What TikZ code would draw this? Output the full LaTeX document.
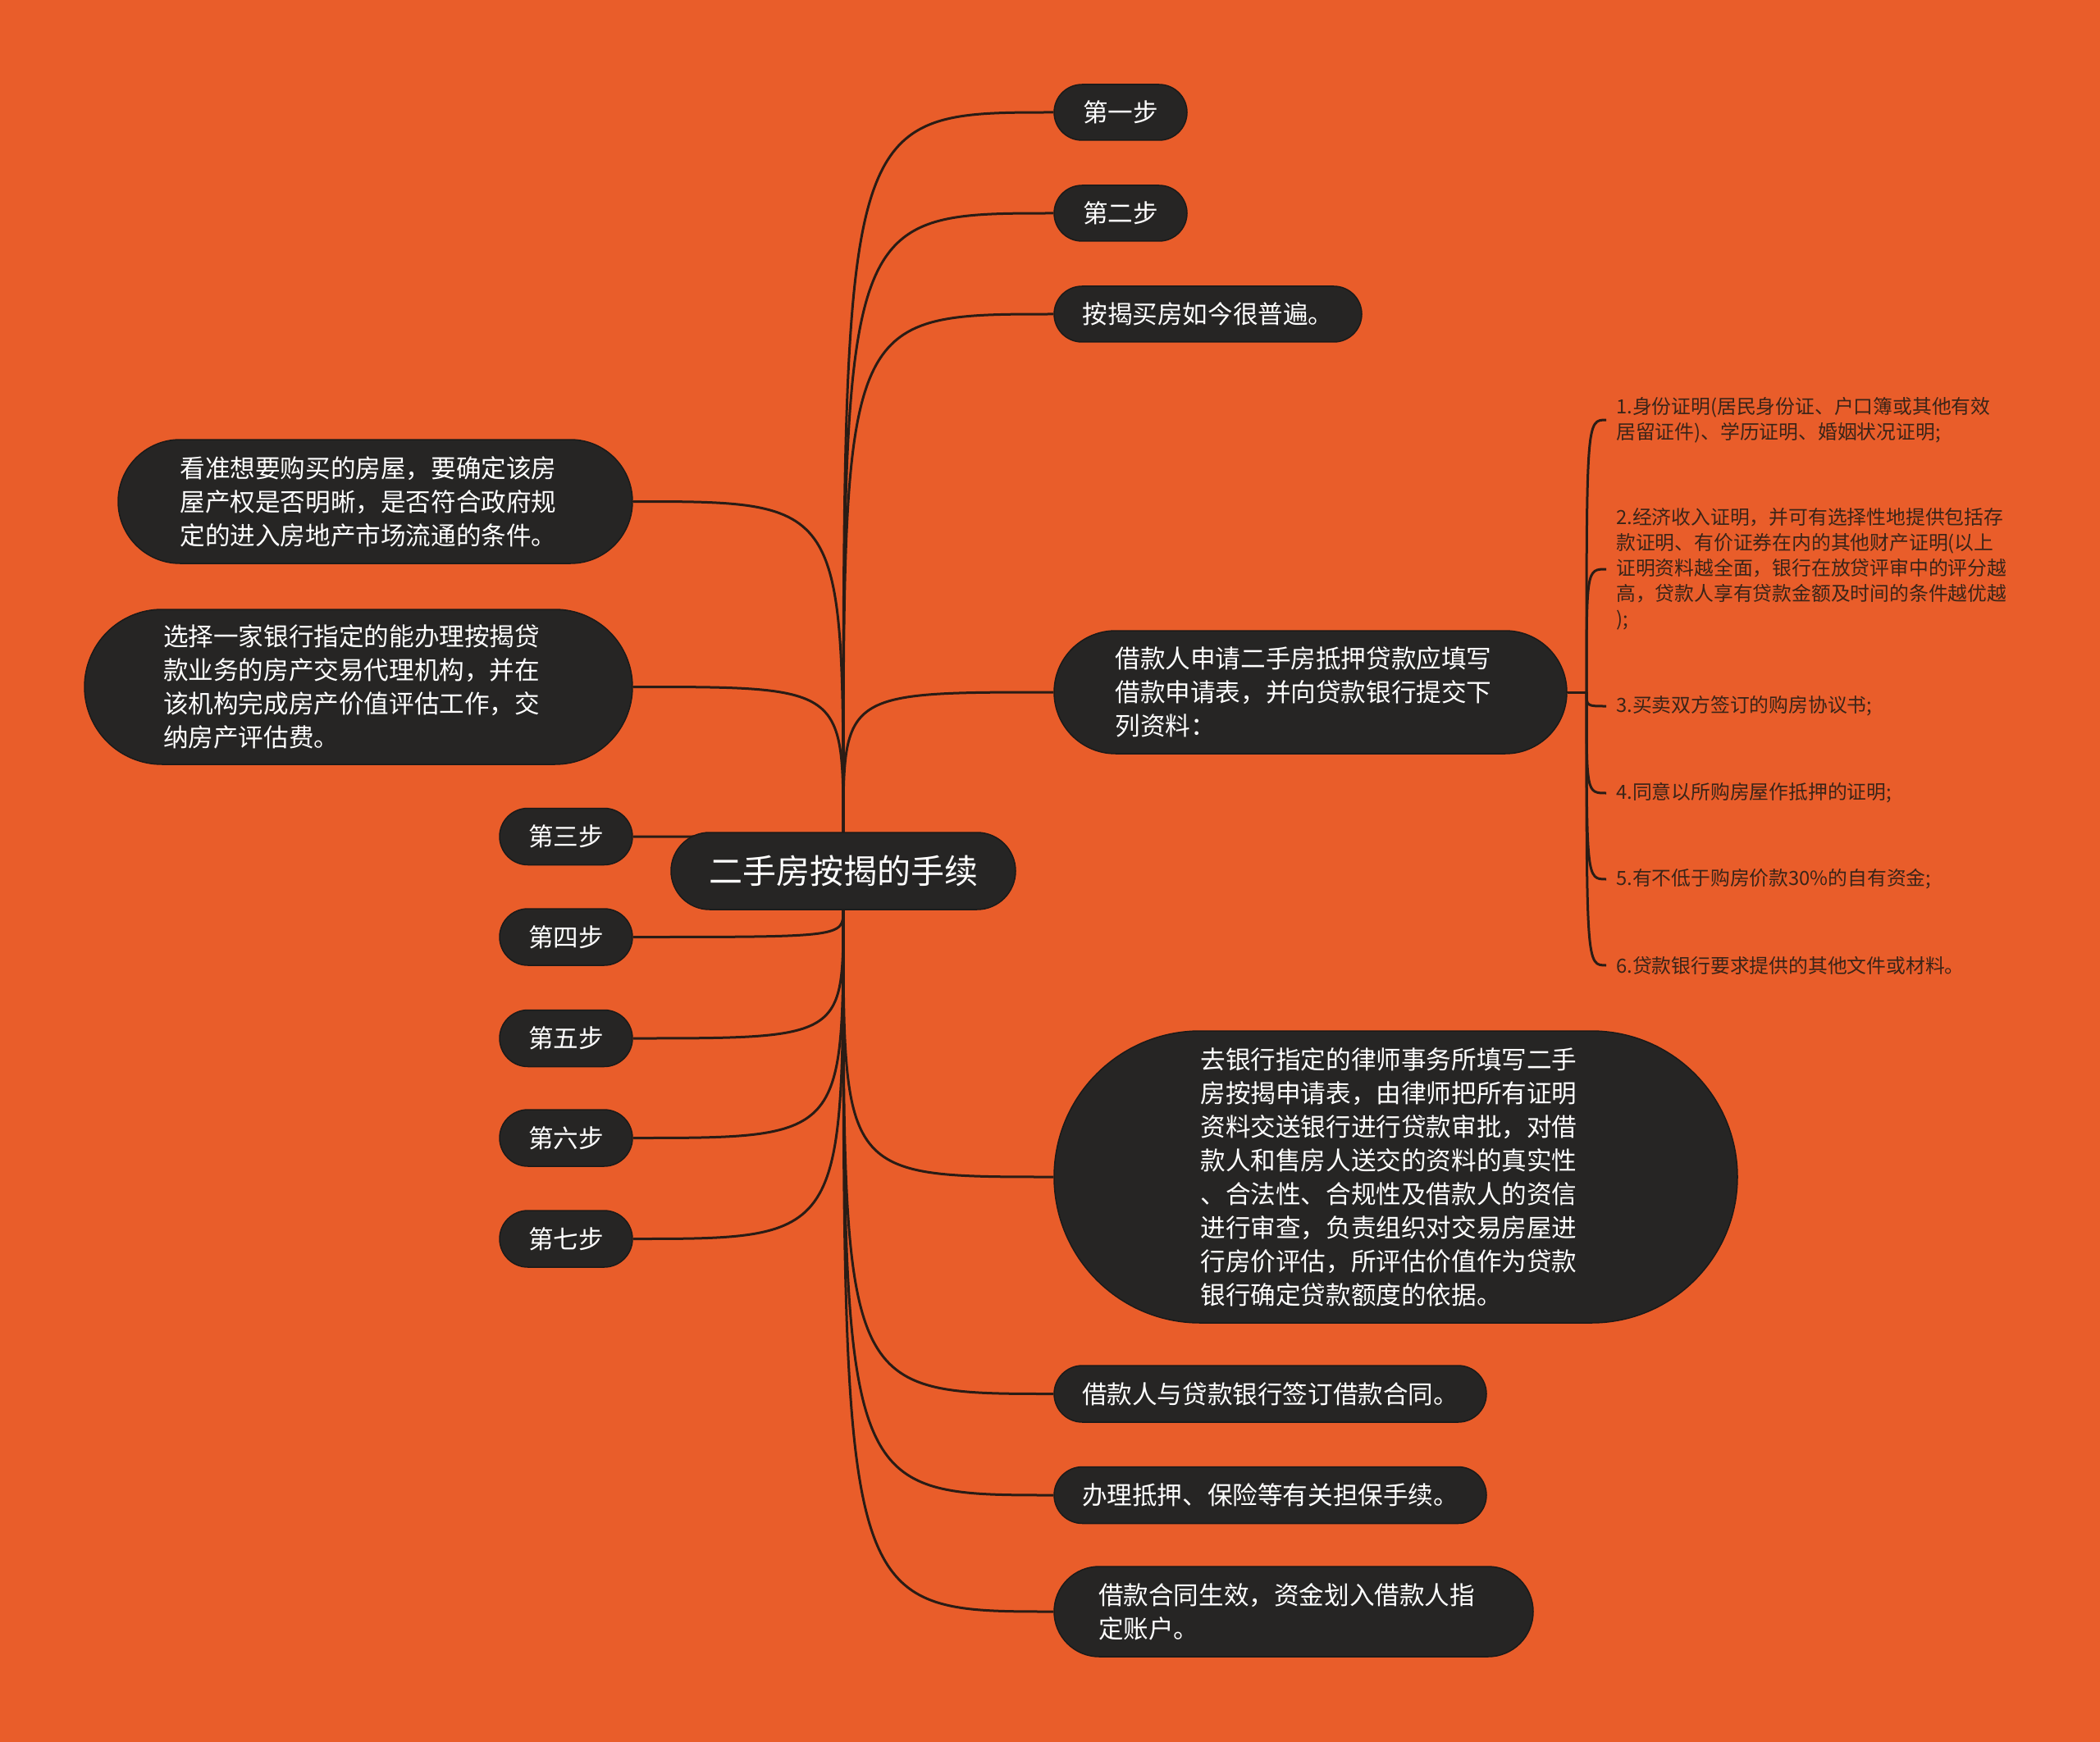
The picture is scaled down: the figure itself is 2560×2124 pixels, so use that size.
\documentclass[tikz,border=0pt]{standalone}
\usepackage{fontspec}
\setmainfont{Noto Sans CJK SC}
\pgfdeclarelayer{bg}
\pgfsetlayers{bg,main}
\definecolor{bgorange}{HTML}{E95D2A}
\definecolor{nodefill}{HTML}{262524}
\definecolor{nodeline}{HTML}{1B1A19}
\definecolor{linkc}{HTML}{2A1C15}
\definecolor{leaftext}{HTML}{3A2418}
\tikzset{
  pill/.style={draw=nodeline, line width=1.5pt, fill=nodefill, text=white, inner sep=0pt,
    align=left, font=\fontsize{30.6}{41}\selectfont},
  multi/.style={text width=476pt},
  link/.style={draw=linkc, line width=3pt},
  leaf/.style={anchor=west, text=leaftext, inner xsep=12pt, inner ysep=0pt, align=left,
    font=\fontsize{23.8}{31}\selectfont},
}
\begin{document}
\begin{tikzpicture}[x=1pt,y=-1pt]
\useasboundingbox (0,0) rectangle (2560,2124);
\begin{pgfonlayer}{bg}
\fill[bgorange] (0,0) rectangle (2560,2124);
\end{pgfonlayer}

% center
\node[pill, minimum width=420pt, minimum height=94pt, rounded corners=47pt,
  font=\fontsize{41}{48}\selectfont] (c) at (1028,1062) {二手房按揭的手续};

% right side
\node[pill, minimum width=162pt, minimum height=68pt, rounded corners=34pt] (n1) at (1366,137) {第一步};
\node[pill, minimum width=162pt, minimum height=68pt, rounded corners=34pt] (n2) at (1366,260) {第二步};
\node[pill, minimum width=375pt, minimum height=68pt, rounded corners=34pt] (n3) at (1472.5,383) {按揭买房如今很普遍。};
\node[pill, multi, minimum width=625pt, minimum height=150pt, rounded corners=75pt] (n4) at (1597.5,844)
  {借款人申请二手房抵押贷款应填写\\借款申请表，并向贷款银行提交下\\列资料：};
\node[pill, multi, minimum width=833pt, minimum height=356pt, rounded corners=178pt] (n5) at (1701.5,1435)
  {去银行指定的律师事务所填写二手\\房按揭申请表，由律师把所有证明\\资料交送银行进行贷款审批，对借\\款人和售房人送交的资料的真实性\\、合法性、合规性及借款人的资信\\进行审查，负责组织对交易房屋进\\行房价评估，所评估价值作为贷款\\银行确定贷款额度的依据。};
\node[pill, minimum width=527pt, minimum height=69pt, rounded corners=34.5pt] (n6) at (1548.5,1699.5) {借款人与贷款银行签订借款合同。};
\node[pill, minimum width=527pt, minimum height=69pt, rounded corners=34.5pt] (n7) at (1548.5,1823) {办理抵押、保险等有关担保手续。};
\node[pill, multi, minimum width=584pt, minimum height=110pt, rounded corners=55pt] (n8) at (1577,1965)
  {借款合同生效，资金划入借款人指\\定账户。};

% left side
\node[pill, multi, minimum width=627pt, minimum height=151pt, rounded corners=75.5pt] (m1) at (457.5,611.5)
  {看准想要购买的房屋，要确定该房\\屋产权是否明晰，是否符合政府规\\定的进入房地产市场流通的条件。};
\node[pill, multi, minimum width=668pt, minimum height=189pt, rounded corners=94.5pt] (m2) at (437,837.5)
  {选择一家银行指定的能办理按揭贷\\款业务的房产交易代理机构，并在\\该机构完成房产价值评估工作，交\\纳房产评估费。};
\node[pill, minimum width=162pt, minimum height=69pt, rounded corners=34.5pt] (m3) at (690,1020) {第三步};
\node[pill, minimum width=162pt, minimum height=69pt, rounded corners=34.5pt] (m4) at (690,1142.5) {第四步};
\node[pill, minimum width=162pt, minimum height=69pt, rounded corners=34.5pt] (m5) at (690,1266) {第五步};
\node[pill, minimum width=162pt, minimum height=69pt, rounded corners=34.5pt] (m6) at (690,1387.5) {第六步};
\node[pill, minimum width=162pt, minimum height=69pt, rounded corners=34.5pt] (m7) at (690,1510.5) {第七步};

% leaves
\node[leaf] (l1) at (1958,512) {1.身份证明(居民身份证、户口簿或其他有效\\居留证件)、学历证明、婚姻状况证明;};
\node[leaf] (l2) at (1958,694) {2.经济收入证明，并可有选择性地提供包括存\\款证明、有价证券在内的其他财产证明(以上\\证明资料越全面，银行在放贷评审中的评分越\\高，贷款人享有贷款金额及时间的条件越优越\\);};
\node[leaf] (l3) at (1958,861) {3.买卖双方签订的购房协议书;};
\node[leaf] (l4) at (1958,967) {4.同意以所购房屋作抵押的证明;};
\node[leaf] (l5) at (1958,1072) {5.有不低于购房价款30\%的自有资金;};
\node[leaf] (l6) at (1958,1177) {6.贷款银行要求提供的其他文件或材料。};

\coordinate (j) at (1934,844);

\begin{pgfonlayer}{bg}
\foreach \t in {n1,n2,n3,n4}
  \draw[link] (c.north) .. controls (c.north |- \t.west) .. (\t.west);
\foreach \t in {n5,n6,n7,n8}
  \draw[link] (c.south) .. controls (c.south |- \t.west) .. (\t.west);
\foreach \t in {m1,m2,m3}
  \draw[link] (c.north) .. controls (c.north |- \t.east) .. (\t.east);
\foreach \t in {m4,m5,m6,m7}
  \draw[link] (c.south) .. controls (c.south |- \t.east) .. (\t.east);
\draw[link] (n4.east) -- (j);
\foreach \t in {l1,l2,l3,l4,l5,l6}
  \draw[link] (j) .. controls (j |- \t.west) .. (\t.west);
\end{pgfonlayer}
\end{tikzpicture}
\end{document}
